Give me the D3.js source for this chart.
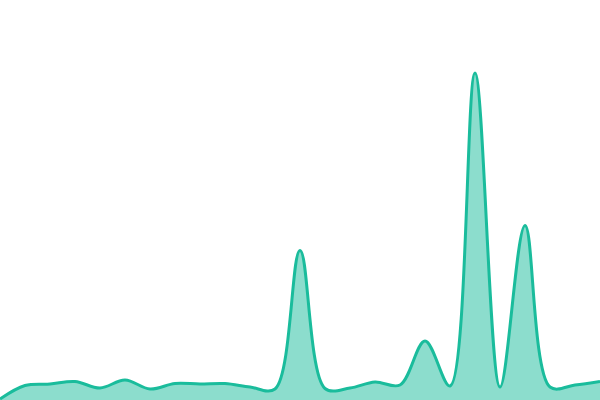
<!DOCTYPE html>
<html>
<head>
<meta charset="utf-8">
<script src="https://cdn.jsdelivr.net/npm/d3@7.9.0/dist/d3.min.js"></script>
<style>
  html, body { margin: 0; padding: 0; background: #fff; }
  svg { display: block; }
</style>
</head>
<body>
<svg id="vis"></svg>
<script>
const width = 600;
const height = 400;

// one sample every step along x
const steps = d3.range(0, 25);
const values = [1, 14.5, 16, 18.5, 12, 20, 11, 16.5, 16, 16.5, 13, 11,
                149.5, 11.5, 12, 18, 15, 59, 14, 327, 13, 174.5, 13, 15, 18.5];

const data = steps.map((s, i) => ({ step: s, value: values[i] }));

const vis = d3.select("#vis")
    .attr("width", width)
    .attr("height", height);

const x = d3.scaleLinear()
    .domain([0, steps.length - 1])
    .range([0, width]);

const y = d3.scaleLinear()
    .domain([0, 400])
    .range([height, 0]);

const curve = d3.curveCatmullRom.alpha(0.5);

const area = d3.area()
    .x(d => x(d.step))
    .y0(y(0))
    .y1(d => y(d.value))
    .curve(curve);

const line = d3.line()
    .x(d => x(d.step))
    .y(d => y(d.value))
    .curve(curve);

vis.append("path")
    .datum(data)
    .attr("d", area)
    .attr("fill", "#1abc9c")
    .attr("fill-opacity", 0.5);

vis.append("path")
    .datum(data)
    .attr("d", line)
    .attr("fill", "none")
    .attr("stroke", "#1abc9c")
    .attr("stroke-width", 3);
</script>
</body>
</html>
